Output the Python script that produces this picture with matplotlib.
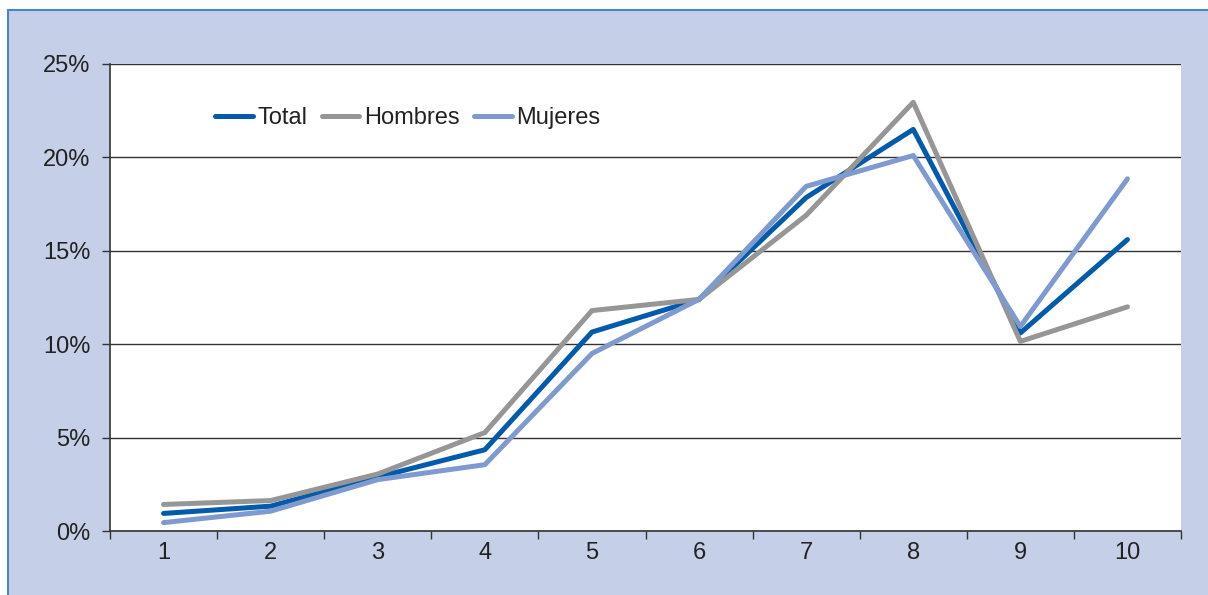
import matplotlib
matplotlib.use("Agg")
import matplotlib.pyplot as plt
from matplotlib.patches import Rectangle
from matplotlib.ticker import FuncFormatter
import numpy as np

# data (percent)
categories = [1, 2, 3, 4, 5, 6, 7, 8, 9, 10]
total = [0.94, 1.33, 2.89, 4.35, 10.65, 12.4, 17.85, 21.5, 10.6, 15.6]
hombres = [1.42, 1.63, 3.05, 5.27, 11.8, 12.4, 16.9, 22.95, 10.15, 12.0]
mujeres = [0.45, 1.06, 2.75, 3.55, 9.5, 12.4, 18.45, 20.1, 10.95, 18.85]
y_ticks = [0, 5, 10, 15, 20, 25]

font = ['Liberation Sans Narrow', 'Liberation Sans', 'DejaVu Sans']
plt.rcParams['font.family'] = font

W, H = 1208, 595
fig = plt.figure(figsize=(W / 100, H / 100), dpi=100, facecolor='white')

# blue panel behind the chart
panel = Rectangle((8 / W, -0.01), 1.02 - 8 / W, 1.01 - 10 / H,
                  transform=fig.transFigure, facecolor='#C5D0E8',
                  edgecolor='#4A86C5', linewidth=1.5, zorder=-10)
fig.add_artist(panel)

ax = fig.add_axes([110 / W, 1 - 531 / H, (1181 - 110) / W, (531 - 64) / H])
ax.set_facecolor('white')

ax.plot(categories, total, color='#005BAA', lw=3.6, label='Total', solid_capstyle='round')
ax.plot(categories, hombres, color='#969696', lw=3.6, label='Hombres', solid_capstyle='round')
ax.plot(categories, mujeres, color='#7F9ACF', lw=3.6, label='Mujeres', solid_capstyle='round')

ax.set_xlim(0.5, 10.5)
ax.set_ylim(0, 25)
ax.set_yticks(y_ticks)
ax.yaxis.set_major_formatter(FuncFormatter(lambda v, p: f"{v:.0f}%"))
ax.grid(axis='y', color='#333333', linewidth=1.0)
ax.set_axisbelow(True)

ax.set_xticks(categories)
ax.set_xticks(np.arange(0.5, 11, 1), minor=True)
ax.tick_params(axis='x', which='major', length=0, pad=8, labelsize=17, colors='#222222')
ax.tick_params(axis='x', which='minor', length=6, width=1, color='#333333')
ax.tick_params(axis='y', length=6, width=1, color='#333333', labelsize=17, pad=8, labelcolor='#222222')

for s in ['top', 'right']:
    ax.spines[s].set_visible(False)
for s in ['left', 'bottom']:
    ax.spines[s].set_color('#333333')
    ax.spines[s].set_linewidth(1.2)

leg = ax.legend(loc='center left', bbox_to_anchor=((215 - 110) / 1071, (531 - 118) / 467),
                ncol=3, frameon=False, fontsize=17, handlelength=1.6,
                handletextpad=0.2, columnspacing=0.6, borderaxespad=0, borderpad=0)
for t in leg.get_texts():
    t.set_color('#222222')

fig.savefig('out.png', dpi=100, facecolor=fig.get_facecolor())
